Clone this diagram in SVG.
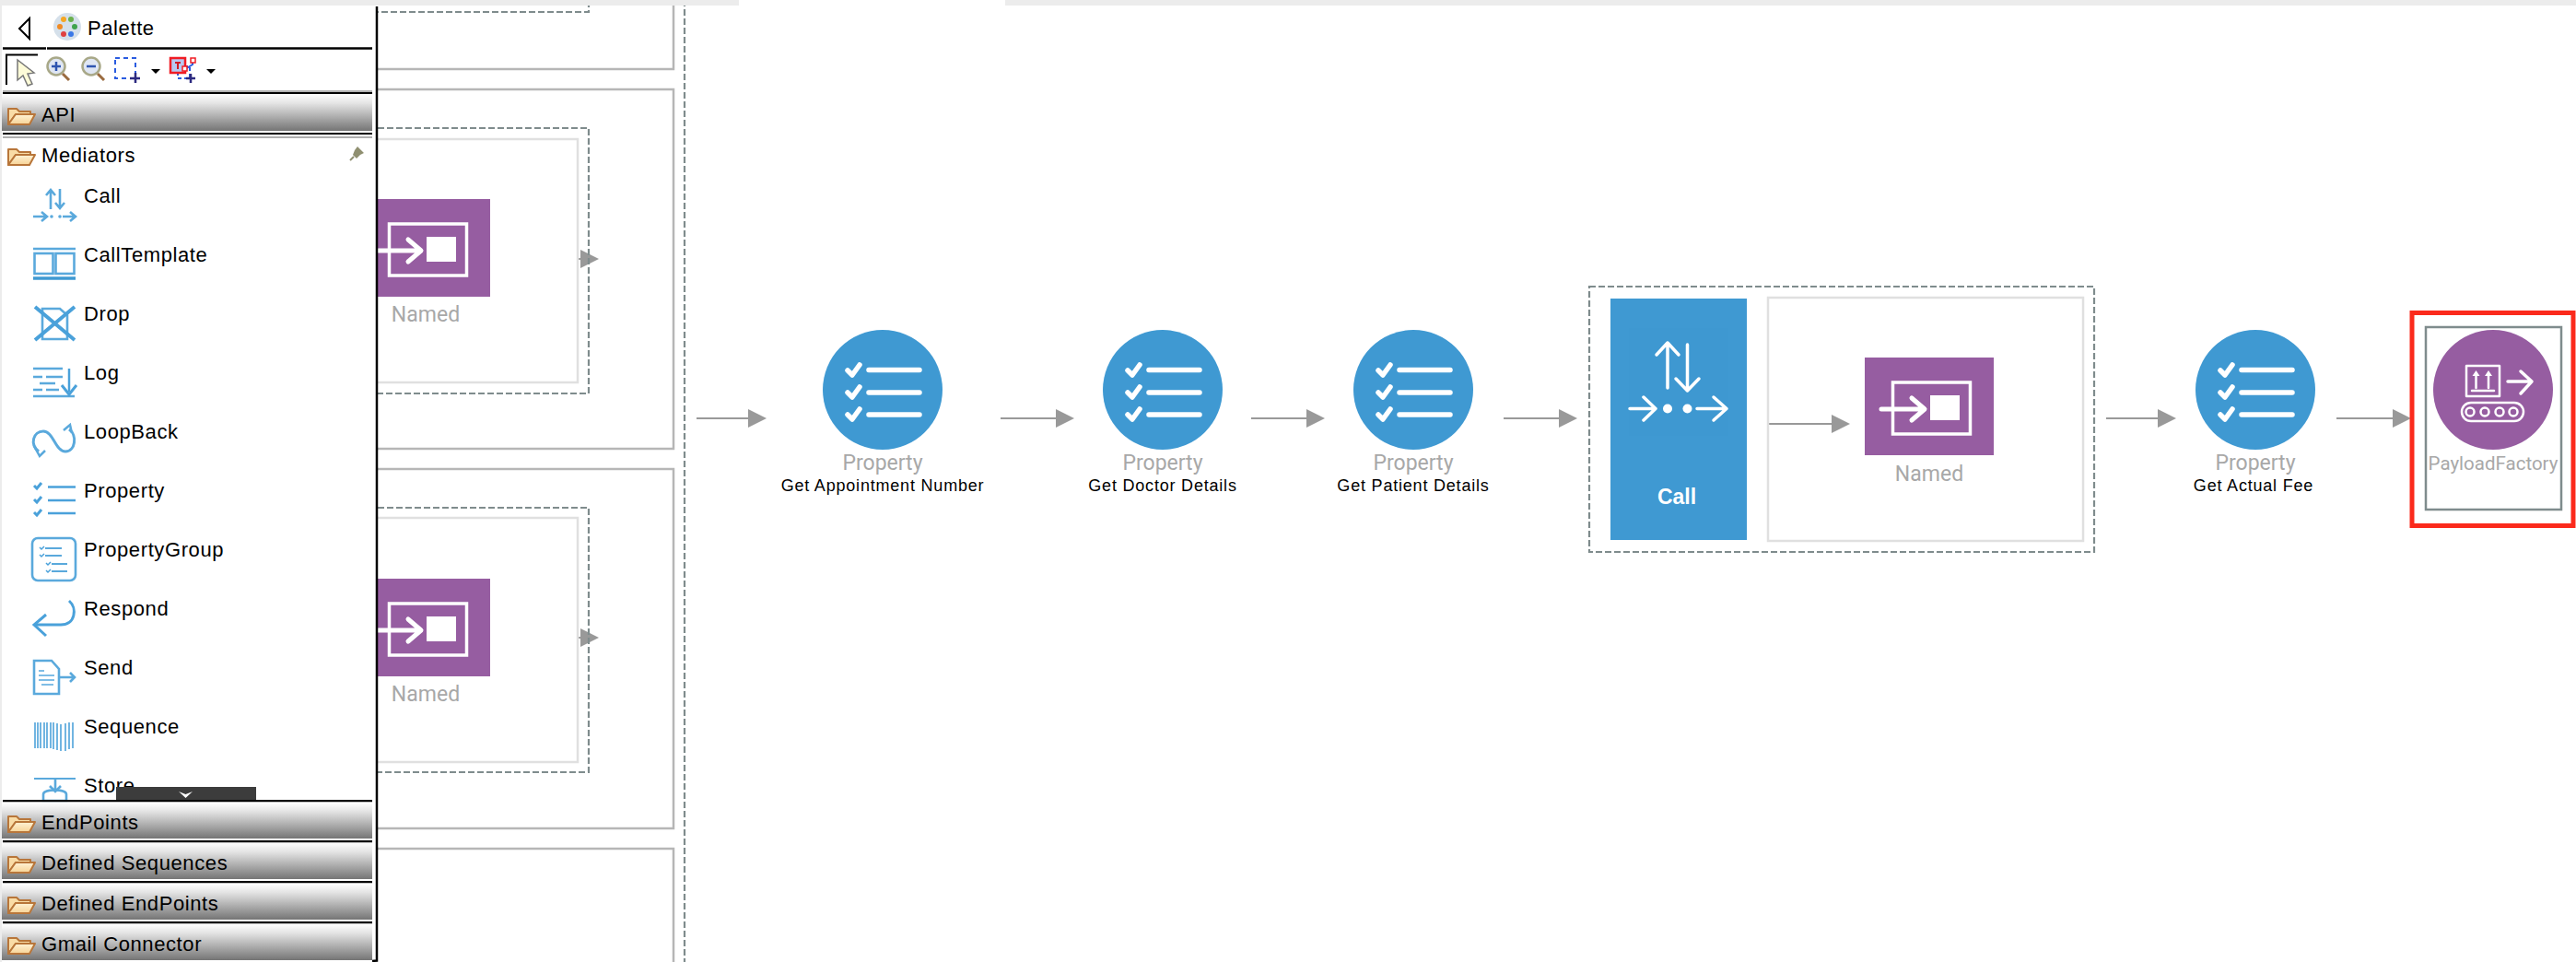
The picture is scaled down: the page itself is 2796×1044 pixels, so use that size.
<svg xmlns="http://www.w3.org/2000/svg" width="2796" height="1044" viewBox="0 0 2796 1044">
<style>
text{font-family:"Liberation Sans",Arial,sans-serif}
.pal{font-size:22px;fill:#000;letter-spacing:.6px}
.gray{font-family:Roboto,"Liberation Sans",sans-serif;font-size:23px;fill:#a8a8a8;text-anchor:middle}
.sub{font-size:18px;fill:#000;text-anchor:middle;letter-spacing:.8px}
.conn{stroke:#999;stroke-width:2.2;fill:none;marker-end:url(#ah)}
.outer{fill:#fff;stroke:#b6b6b6;stroke-width:2.5}
.inner{fill:none;stroke:#e0e0e0;stroke-width:2.5}
.dash{fill:none;stroke:#7f8c8d;stroke-width:2.2;stroke-dasharray:7 3}
.wl{fill:none;stroke:#fff;stroke-width:4;stroke-linecap:round;stroke-linejoin:round}
.bl{fill:none;stroke:#5aa9dc;stroke-width:2.6}
.blk{stroke:#000;stroke-width:2.5}
</style>
<defs>
<marker id="ah" markerUnits="userSpaceOnUse" markerWidth="20" markerHeight="20" refX="0" refY="10" orient="auto"><path d="M0,0L20,10L0,20Z" fill="#999"/></marker>
<linearGradient id="band" x1="0" y1="0" x2="0" y2="1"><stop offset="0" stop-color="#fff"/><stop offset=".25" stop-color="#e4e4e4"/><stop offset="1" stop-color="#757575"/></linearGradient>
<linearGradient id="fold" x1="0" y1="0" x2="0" y2="1"><stop offset="0" stop-color="#fff3d6"/><stop offset="1" stop-color="#f7d396"/></linearGradient>
<g id="folder"><path d="M1,20V3H10L13,6H25V9H9L1,20Z" fill="#f9dca6" stroke="#b8763a" stroke-width="2" stroke-linejoin="round"/><path d="M1,20L9,9H30L24,20Z" fill="url(#fold)" stroke="#b8763a" stroke-width="2" stroke-linejoin="round"/></g>
<g id="prop">
<circle r="65" fill="#3f99d2"/>
<g class="wl" style="stroke-width:5.500">
<path d="M-15,-21.500H40M-15,3H40M-15,27H40"/>
<path d="M-38,-21L-33,-16L-25,-27M-38,3L-33,8L-25,-3M-38,27L-33,32L-25,21"/>
</g>
</g>
<g id="named">
<rect width="140" height="106" fill="#965da1"/>
<rect x="30.500" y="27" width="84" height="56" fill="none" stroke="#fff" stroke-width="3.500"/>
<rect x="71" y="41" width="32" height="27" fill="#fff"/>
<path d="M18,56H64M51,44L65,56L51,68" class="wl" style="stroke-width:5"/>
</g>
</defs>
<rect width="2796" height="1044" fill="#fff"/>
<g id="canvas-frames">
<rect class="outer" x="300" y="-300" width="431" height="375"/>
<rect class="outer" x="300" y="97" width="431" height="390"/>
<rect class="outer" x="300" y="509" width="431" height="390"/>
<rect class="outer" x="300" y="921" width="431" height="300"/>
<rect class="dash" x="300" y="-100" width="339" height="113"/>
<line class="dash" x1="743" y1="0" x2="743" y2="1044"/>
</g>
<g id="connectors">
<line class="conn" x1="628" y1="281" x2="630" y2="281"/>
<line class="conn" x1="628" y1="692" x2="630" y2="692"/>
<line class="conn" x1="756" y1="454" x2="812" y2="454"/>
<line class="conn" x1="1086" y1="454" x2="1146" y2="454"/>
<line class="conn" x1="1358" y1="454" x2="1418" y2="454"/>
<line class="conn" x1="1632" y1="454" x2="1692" y2="454"/>
<line class="conn" x1="1920" y1="460" x2="1988" y2="460"/>
<line class="conn" x1="2286" y1="454" x2="2342" y2="454"/>
<line class="conn" x1="2536" y1="454" x2="2597" y2="454"/>
</g>
<g id="case-named-1">
<rect class="inner" x="300" y="151" width="327" height="264"/>
<rect class="dash" x="300" y="139" width="339" height="288"/>
<use href="#named" x="392" y="216"/>
<text class="gray" x="462" y="349">Named</text>
</g>
<g id="case-named-2">
<rect class="inner" x="300" y="562" width="327" height="265"/>
<rect class="dash" x="300" y="551" width="339" height="287"/>
<use href="#named" x="392" y="628"/>
<text class="gray" x="462" y="761">Named</text>
</g>
<g id="prop-appointment">
<use href="#prop" x="958" y="423"/>
<text class="gray" x="958" y="510">Property</text>
<text class="sub" x="958" y="533">Get Appointment Number</text>
</g>
<g id="prop-doctor">
<use href="#prop" x="1262" y="423"/>
<text class="gray" x="1262" y="510">Property</text>
<text class="sub" x="1262" y="533">Get Doctor Details</text>
</g>
<g id="prop-patient">
<use href="#prop" x="1534" y="423"/>
<text class="gray" x="1534" y="510">Property</text>
<text class="sub" x="1534" y="533">Get Patient Details</text>
</g>
<g id="call">
<rect class="dash" x="1725" y="311" width="548" height="288"/>
<rect x="1748" y="324" width="148" height="262" fill="#3f99d2"/>
<rect x="1768" y="356" width="108" height="117" fill="#3e98d1"/>
<g class="wl" style="stroke-width:3.500">
<path d="M1810,421V372M1798,385L1810,372L1822,385"/>
<path d="M1831.500,374V424M1819,411L1831.500,424L1844,411"/>
<path d="M1769,443.500H1797M1784,431L1797,443.500L1784,456"/>
<path d="M1842,443.500H1874M1860,431L1874,443.500L1860,456"/>
</g>
<circle cx="1810" cy="443.500" r="5" fill="#fff"/><circle cx="1831.500" cy="443.500" r="5" fill="#fff"/>
<text x="1820" y="547" font-size="23" font-weight="700" fill="#fff" text-anchor="middle">Call</text>
<rect class="inner" x="1919" y="323" width="342" height="264"/>
<use href="#named" x="2024" y="388"/>
<text class="gray" x="2094" y="522">Named</text>
</g>
<g id="prop-fee">
<use href="#prop" x="2448" y="423"/>
<text class="gray" x="2448" y="510">Property</text>
<text class="sub" x="2446" y="533">Get Actual Fee</text>
</g>
<g id="payload">
<rect x="2633" y="355" width="147" height="198" fill="none" stroke="#7f8c8d" stroke-width="2.500"/>
<circle cx="2706" cy="423" r="65" fill="#965da1"/>
<g class="wl" style="stroke-width:2.500">
<rect x="2677" y="397" width="36" height="33"/>
<path d="M2683,424H2707M2687.500,421V408M2701,421V408"/>
<rect x="2672" y="437" width="67" height="20" rx="10"/>
<circle cx="2681" cy="447" r="4.500"/><circle cx="2697" cy="447" r="4.500"/><circle cx="2713" cy="447" r="4.500"/><circle cx="2728" cy="447" r="4.500"/>
</g>
<path d="M2683.500,408L2687.500,402L2691.500,408ZM2697,408L2701,402L2705,408Z" fill="#fff"/>
<path d="M2722,414H2748M2736,403L2748,414L2736,427" class="wl" style="stroke-width:3.500"/>
<text class="gray" x="2706" y="510" style="font-size:20.500px">PayloadFactory</text>
<rect x="2618" y="339.500" width="175" height="231" fill="none" stroke="#fb2a1c" stroke-width="5"/>
</g>
<g id="top-strip">
<rect x="0" y="0" width="802" height="6" fill="#ececec"/>
<rect x="1091" y="0" width="1705" height="6" fill="#ececec"/>
</g>
<g id="palette">
<rect x="0" y="6" width="2" height="1038" fill="#ececec"/>
<rect x="2" y="6" width="406" height="1038" fill="#fff"/>
<path d="M409,7V1042.500L404,1043" fill="none" stroke="#000" stroke-width="2.500"/>
<path d="M32,20L21,31L32,42Z" fill="#fff" stroke="#000" stroke-width="2"/>
<circle cx="73" cy="29" r="15" fill="#d5e0ea"/>
<g><circle cx="69" cy="21" r="3" fill="#f5a623"/><circle cx="77" cy="21" r="3" fill="#6ab04c"/><circle cx="65" cy="29" r="3" fill="#f08a24"/><circle cx="81" cy="29" r="3" fill="#3fa34d"/><circle cx="69" cy="37" r="3" fill="#e04040"/><circle cx="77" cy="37" r="3" fill="#3b78e7"/></g>
<text class="pal" x="95" y="38">Palette</text>
<path class="blk" d="M3,52.500H50M51,52.500H404"/>
<path d="M7,92V59.500H41" fill="none" stroke="#000" stroke-width="2"/>
<path d="M19,65V87L25,82L30,93L35,91L30,80L37,79Z" fill="#fdfbd8" stroke="#777" stroke-width="1.500"/>
<g id="zoom-in"><circle cx="61" cy="72" r="9.500" fill="#dfe6f3" stroke="#a8a888" stroke-width="2.500"/><path d="M68,80L75,87" stroke="#9a6b3f" stroke-width="3"/><path d="M56,72H66M61,67V77" stroke="#2f55b0" stroke-width="2.500"/></g>
<g id="zoom-out"><circle cx="99" cy="72" r="9.500" fill="#dfe6f3" stroke="#a8a888" stroke-width="2.500"/><path d="M106,80L113,87" stroke="#9a6b3f" stroke-width="3"/><path d="M94,72H104" stroke="#2f55b0" stroke-width="2.500"/></g>
<rect x="125" y="63" width="22" height="22" fill="none" stroke="#2a5ce0" stroke-width="2" stroke-dasharray="5 4"/>
<path d="M147,79V90M141,85H152" stroke="#2c2a80" stroke-width="2.500"/>
<path d="M164,75H174L169,80Z" fill="#000"/>
<rect x="193" y="72" width="13" height="13" fill="none" stroke="#2a5ce0" stroke-width="2" stroke-dasharray="4 3"/>
<rect x="185" y="63" width="16" height="16" fill="#b8c8f0" stroke="#f01c24" stroke-width="2.500"/>
<path d="M190,68H196M193,68V75" stroke="#d01c24" stroke-width="2"/>
<path d="M201,75L209,70V66" stroke="#2a5ce0" stroke-width="2" fill="none"/>
<rect x="198" y="72" width="5" height="5" fill="#fff" stroke="#f01c24" stroke-width="1.500"/>
<rect x="207" y="63" width="5" height="5" fill="#fff" stroke="#f01c24" stroke-width="1.500"/>
<path d="M207,80V90M202,85H212" stroke="#2c2a80" stroke-width="2.500"/>
<path d="M224,75H234L229,80Z" fill="#000"/>
<rect x="3" y="98" width="401" height="2" fill="#b0b0b0"/>
<rect x="3" y="100" width="401" height="2" fill="#000"/>
<rect x="2" y="102" width="402" height="40" fill="url(#band)"/>
<rect x="3" y="144" width="401" height="2" fill="#000"/>
<rect x="3" y="148" width="401" height="2" fill="#b0b0b0"/>
<use href="#folder" x="8" y="115"/>
<text class="pal" x="45" y="132">API</text>
<use href="#folder" x="8" y="159"/>
<text class="pal" x="45" y="176">Mediators</text>
<path d="M388,159L395,166L391,168L387,172L383,168L385,163Z" fill="#8f8f70"/><path d="M384,170L380,174" stroke="#8f8f70" stroke-width="2"/>
<g id="pal-call">
<g class="bl"><path d="M55,227V207M50,212L55,206L60,212M65,205V226M60,220L65,226L70,220M36,235H50M45,230L51,235L45,240M68,235H82M76,230L82,235L76,240"/></g>
<circle cx="56" cy="235" r="1.800" fill="#5aa9dc"/><circle cx="65" cy="235" r="1.800" fill="#5aa9dc"/>
<text class="pal" x="91" y="220">Call</text>
</g>
<g id="pal-calltemplate">
<path d="M36,270H82" stroke="#5aa9dc" stroke-width="2.500"/><rect x="37.500" y="275" width="20" height="22" class="bl"/><rect x="60.500" y="275" width="20" height="22" class="bl"/><path d="M36,302H82" stroke="#3f99d2" stroke-width="3.500"/>
<text class="pal" x="91" y="284">CallTemplate</text>
</g>
<g id="pal-drop">
<path d="M46,335H65L73,342V368H46Z" class="bl"/><path d="M38,333L81,369M81,333L38,369" stroke="#4aa1da" stroke-width="4"/>
<text class="pal" x="91" y="348">Drop</text>
</g>
<g id="pal-log">
<path d="M36,400H68M36,409H46M50,409H68M43,416H60M36,423H46M50,423H64M36,430H81" class="bl"/>
<path d="M75,400V425" stroke="#4aa1da" stroke-width="2.500"/><path d="M67,418L75,428L83,418" fill="none" stroke="#4aa1da" stroke-width="3"/>
<text class="pal" x="91" y="412">Log</text>
</g>
<g id="pal-loopback">
<path d="M42,490C32,482 36,468 47,468C58,468 60,490 71,490C82,490 84,472 75,466" class="bl" style="stroke-width:3"/>
<path d="M37,484L43,495L49,489M69,467L76,461L78,470" fill="none" stroke="#5aa9dc" stroke-width="2.500"/>
<text class="pal" x="91" y="476">LoopBack</text>
</g>
<g id="pal-property">
<path d="M52,528.500H82M52,543H82M52,557H82" stroke="#4aa1da" stroke-width="2.500"/>
<path d="M37,527L40,530L45,524M37,542L40,545L45,539M37,556L40,559L45,553" fill="none" stroke="#4aa1da" stroke-width="3"/>
<text class="pal" x="91" y="540">Property</text>
</g>
<g id="pal-group">
<rect x="35" y="584" width="47" height="46" rx="6" class="bl"/>
<path d="M49,595H67M49,603H67M56,612H73M56,620H73" stroke="#5aa9dc" stroke-width="2"/>
<path d="M43,594L45,596L48,593M43,602L45,604L48,601M50,611L52,613L55,610M50,619L52,621L55,618" fill="none" stroke="#4aa1da" stroke-width="1.500"/>
<text class="pal" x="91" y="604">PropertyGroup</text>
</g>
<g id="pal-respond">
<path d="M75,652C84,660 82,678 66,678H38" fill="none" stroke="#4aa1da" stroke-width="3"/>
<path d="M50,667L37,678L50,690" fill="none" stroke="#4aa1da" stroke-width="3"/>
<text class="pal" x="91" y="668">Respond</text>
</g>
<g id="pal-send">
<path d="M37,717H56L64,726V753H37Z" class="bl"/>
<path d="M42,728H48M42,733H59M42,738H59M45,743H58" stroke="#7fbde6" stroke-width="2"/>
<path d="M65,735H81M76,730L81,735L76,740" class="bl"/>
<text class="pal" x="91" y="732">Send</text>
</g>
<g id="pal-sequence">
<path d="M38,784V812M41,784V812M44,784V812M48,784V812M51,784V812M55,784V812M58,784V813M62,785V814M66,786V815M71,785V815M75,784V813M79,784V812" stroke="#5aa9dc" stroke-width="1.700"/>
<text class="pal" x="91" y="796">Sequence</text>
</g>
<g id="pal-store">
<path d="M37,845H82" stroke="#5aa9dc" stroke-width="2"/><path d="M60,845V858M54,853L60,859L66,853" class="bl"/>
<path d="M47,862C47,856 72,856 72,862V869H47Z" class="bl"/>
<text class="pal" x="91" y="860">Store</text>
</g>
<rect x="126" y="854" width="152" height="14" fill="#3c3c3c"/>
<path d="M194,859L201.500,866L209,859L201.500,862Z" fill="#fff"/>
<rect x="3" y="868" width="401" height="2.500" fill="#000"/>
<rect x="2" y="870.500" width="402" height="39.500" fill="url(#band)"/>
<rect x="3" y="912" width="401" height="2.500" fill="#000"/>
<rect x="2" y="914.500" width="402" height="39.500" fill="url(#band)"/>
<rect x="3" y="956" width="401" height="2.500" fill="#000"/>
<rect x="2" y="958.500" width="402" height="39.500" fill="url(#band)"/>
<rect x="3" y="1000" width="401" height="2.500" fill="#000"/>
<rect x="2" y="1002.500" width="402" height="39.500" fill="url(#band)"/>
<use href="#folder" x="8" y="883"/><text class="pal" x="45" y="900">EndPoints</text>
<use href="#folder" x="8" y="927"/><text class="pal" x="45" y="944">Defined Sequences</text>
<use href="#folder" x="8" y="971"/><text class="pal" x="45" y="988">Defined EndPoints</text>
<use href="#folder" x="8" y="1015"/><text class="pal" x="45" y="1032">Gmail Connector</text>
</g>
</svg>
